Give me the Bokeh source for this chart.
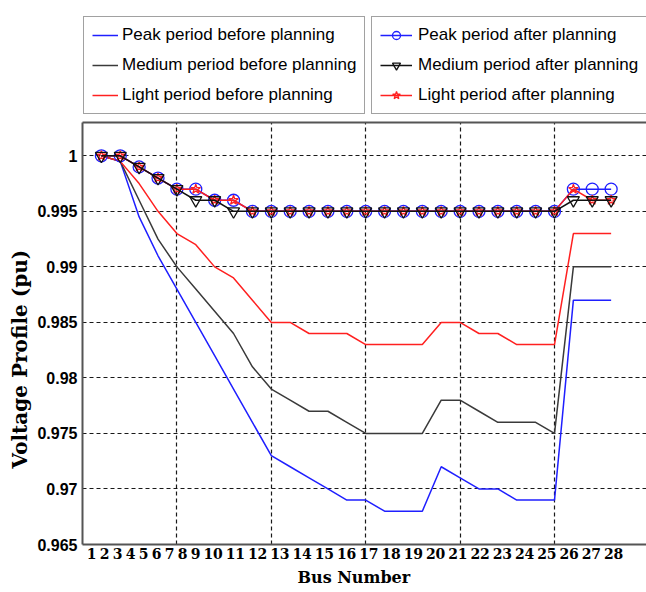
from bokeh.plotting import figure
from bokeh.layouts import column
from bokeh.models import (Range1d, LinearAxis, FixedTicker, CustomJSTickFormatter,
                          Legend, LegendItem, Grid, Title)
from bokeh.embed import file_html
from bokeh.resources import INLINE

# ---------------- data ----------------
bus = list(range(1, 29))
bus_labels = [str(b) for b in bus]

peak_before = [1.0, 0.9995, 0.9945, 0.991, 0.988, 0.985, 0.982, 0.979, 0.976, 0.973,
               0.972, 0.971, 0.970, 0.969, 0.969, 0.968, 0.968, 0.968, 0.972, 0.971,
               0.970, 0.970, 0.969, 0.969, 0.969, 0.987, 0.987, 0.987]
medium_before = [1.0, 0.9995, 0.996, 0.9925, 0.990, 0.988, 0.986, 0.984, 0.981, 0.979,
                 0.978, 0.977, 0.977, 0.976, 0.975, 0.975, 0.975, 0.975, 0.978, 0.978,
                 0.977, 0.976, 0.976, 0.976, 0.975, 0.990, 0.990, 0.990]
light_before = [1.0, 0.9995, 0.9975, 0.995, 0.993, 0.992, 0.990, 0.989, 0.987, 0.985,
                0.985, 0.984, 0.984, 0.984, 0.983, 0.983, 0.983, 0.983, 0.985, 0.985,
                0.984, 0.984, 0.983, 0.983, 0.983, 0.993, 0.993, 0.993]

peak_after = [1.0, 1.0, 0.999, 0.998, 0.997, 0.997, 0.996, 0.996, 0.995, 0.995,
              0.995, 0.995, 0.995, 0.995, 0.995, 0.995, 0.995, 0.995, 0.995, 0.995,
              0.995, 0.995, 0.995, 0.995, 0.995, 0.997, 0.997, 0.997]
medium_after = [1.0, 1.0, 0.999, 0.998, 0.997, 0.996, 0.996, 0.995, 0.995, 0.995,
                0.995, 0.995, 0.995, 0.995, 0.995, 0.995, 0.995, 0.995, 0.995, 0.995,
                0.995, 0.995, 0.995, 0.995, 0.995, 0.996, 0.996, 0.996]
light_after = [1.0, 1.0, 0.999, 0.998, 0.997, 0.997, 0.996, 0.996, 0.995, 0.995,
               0.995, 0.995, 0.995, 0.995, 0.995, 0.995, 0.995, 0.995, 0.995, 0.995,
               0.995, 0.995, 0.995, 0.995, 0.995, 0.997, 0.996, 0.996]

y_ticks = [0.965, 0.97, 0.975, 0.98, 0.985, 0.99, 0.995, 1.0]
y_tick_labels = ["0.965", "0.97", "0.975", "0.98", "0.985", "0.99", "0.995", "1"]
x_grid = [5, 10, 15, 20, 25]

legend_before = ["Peak period before planning", "Medium period before planning",
                 "Light period before planning"]
legend_after = ["Peak period after planning", "Medium period after planning",
                "Light period after planning"]

# ---------------- layout constants ----------------
W = 646
LEG_H = 116                 # height of the legend strip above the chart
MAIN_H = 592 - LEG_H
LEFT, TOP, BOTTOM = 82, 6, 48
PX_PER_UNIT = 18.88
x_end = (W - LEFT) / PX_PER_UNIT

# The bus labels in the original are typeset as one run of text under the axis,
# so their centres follow the text run (digit width + gap) rather than the buses.
DIGIT, GAP, FIRST_CENTER = 9.25, 3.75, 9.0   # px; first centre relative to frame left
centers = []
c = FIRST_CENTER
for k, lab in enumerate(bus_labels):
    if k > 0:
        c += len(bus_labels[k - 1]) * DIGIT / 2 + GAP + len(lab) * DIGIT / 2
    centers.append(c / PX_PER_UNIT)

AX = "#555555"
BLUE, GRAY, RED, BLACK = "#1f1fff", "#3a3a3a", "#ff2020", "#111111"
SANS = "Liberation Sans"
SERIF = "DejaVu Serif"

# ---------------- main chart ----------------
p = figure(width=W, height=MAIN_H, output_backend="svg", toolbar_location=None,
           x_range=Range1d(0, x_end), y_range=Range1d(0.965, 1.003),
           x_axis_type=None, y_axis_type=None,
           min_border_left=LEFT, min_border_top=TOP, min_border_bottom=BOTTOM,
           min_border_right=0)
p.outline_line_color = None
p.background_fill_color = "white"
p.border_fill_color = "white"

xaxis = LinearAxis(ticker=FixedTicker(ticks=centers),
                   formatter=CustomJSTickFormatter(args=dict(labels=bus_labels),
                                                   code="return labels[index];"))
xaxis.axis_line_color = AX
xaxis.axis_line_width = 2
xaxis.major_tick_line_color = None
xaxis.minor_tick_line_color = None
xaxis.major_tick_out = 0
xaxis.major_tick_in = 0
xaxis.minor_tick_out = 0
xaxis.major_label_standoff = 3
xaxis.major_label_text_font = SERIF
xaxis.major_label_text_font_style = "bold"
xaxis.major_label_text_font_size = "14px"
xaxis.major_label_text_color = "black"
p.add_layout(xaxis, "below")

xlabel = Title(text="Bus Number", align="left", offset=215, vertical_align="bottom",
               text_font=SERIF, text_font_style="bold", text_font_size="16px",
               text_color="black", standoff=9)
p.add_layout(xlabel, "below")

yaxis = LinearAxis(ticker=FixedTicker(ticks=y_ticks),
                   formatter=CustomJSTickFormatter(args=dict(labels=y_tick_labels),
                                                   code="return labels[index];"))
yaxis.axis_line_color = AX
yaxis.axis_line_width = 2
yaxis.major_tick_line_color = None
yaxis.minor_tick_line_color = None
yaxis.major_tick_out = 0
yaxis.major_tick_in = 0
yaxis.minor_tick_out = 0
yaxis.major_label_standoff = 5
yaxis.major_label_text_font = SANS
yaxis.major_label_text_font_style = "bold"
yaxis.major_label_text_font_size = "16px"
yaxis.major_label_text_color = "black"
p.add_layout(yaxis, "left")

ylabel = Title(text="Voltage Profile (pu)", align="left", offset=76,
               text_font=SERIF, text_font_style="bold", text_font_size="20px",
               text_color="black", standoff=6)
p.add_layout(ylabel, "left")

top_axis = LinearAxis(ticker=FixedTicker(ticks=[]))
top_axis.axis_line_color = AX
top_axis.axis_line_width = 2
top_axis.major_tick_line_color = None
top_axis.minor_tick_line_color = None
top_axis.major_tick_out = 0
top_axis.major_label_text_font_size = "0px"
p.add_layout(top_axis, "above")

for dim, ticks in ((0, x_grid), (1, y_ticks)):
    g = Grid(dimension=dim, ticker=FixedTicker(ticks=ticks))
    g.grid_line_color = "black"
    g.grid_line_dash = "4 3"
    g.grid_line_width = 1.2
    g.grid_line_alpha = 0.9
    p.add_layout(g)


def draw_series(fig):
    """Draw all six series on fig; returns the renderers for the legend."""
    r_pb = fig.line(bus, peak_before, line_color=BLUE, line_width=1.5)
    r_mb = fig.line(bus, medium_before, line_color=GRAY, line_width=1.5)
    r_lb = fig.line(bus, light_before, line_color=RED, line_width=1.5)
    r_pa = [fig.line(bus, peak_after, line_color=BLUE, line_width=1.5),
            fig.scatter(bus, peak_after, marker="circle", size=12, fill_color=None,
                        line_color=BLUE, line_width=1.3)]
    r_la = [fig.line(bus, light_after, line_color=RED, line_width=1.5),
            fig.scatter(bus, light_after, marker="star", size=10, fill_color=None,
                        line_color=RED, line_width=1.3)]
    r_ma = [fig.line(bus, medium_after, line_color=BLACK, line_width=1.5),
            fig.scatter(bus, medium_after, marker="inverted_triangle", size=12,
                        fill_color=None, line_color=BLACK, line_width=1.3)]
    return r_pb, r_mb, r_lb, r_pa, r_ma, r_la


draw_series(p)

# ---------------- legend strip (its ranges keep the series out of view) ----------------
lg = figure(width=W, height=LEG_H, output_backend="svg", toolbar_location=None,
            x_range=Range1d(100, 101), y_range=Range1d(100, 101),
            x_axis_type=None, y_axis_type=None,
            min_border_left=LEFT, min_border_right=0, min_border_top=0,
            min_border_bottom=0)
lg.outline_line_color = None
lg.background_fill_color = "white"
lg.border_fill_color = "white"

k_pb, k_mb, k_lb, k_pa, k_ma, k_la = draw_series(lg)


def make_legend(items, x_page, glyph_w, standoff):
    leg = Legend(items=items, location=(x_page - LEFT, 2), orientation="vertical")
    leg.label_text_font = SANS
    leg.label_text_font_size = "17px"
    leg.label_text_color = "black"
    leg.border_line_color = "#444444"
    leg.border_line_width = 1.5
    leg.background_fill_color = "white"
    leg.background_fill_alpha = 1.0
    leg.padding = 8
    leg.spacing = 10
    leg.margin = 0
    leg.glyph_height = 20
    leg.label_height = 20
    leg.glyph_width = glyph_w
    leg.label_standoff = standoff
    return leg


leg1 = make_legend([LegendItem(label=legend_before[0], renderers=[k_pb]),
                    LegendItem(label=legend_before[1], renderers=[k_mb]),
                    LegendItem(label=legend_before[2], renderers=[k_lb])],
                   83, 26, 4)
leg2 = make_legend([LegendItem(label=legend_after[0], renderers=k_pa),
                    LegendItem(label=legend_after[1], renderers=k_ma),
                    LegendItem(label=legend_after[2], renderers=k_la)],
                   371, 32, 6)
lg.add_layout(leg1)
lg.add_layout(leg2)

layout = column(lg, p, spacing=0)
open("out.html", "w").write(file_html(layout, INLINE))
